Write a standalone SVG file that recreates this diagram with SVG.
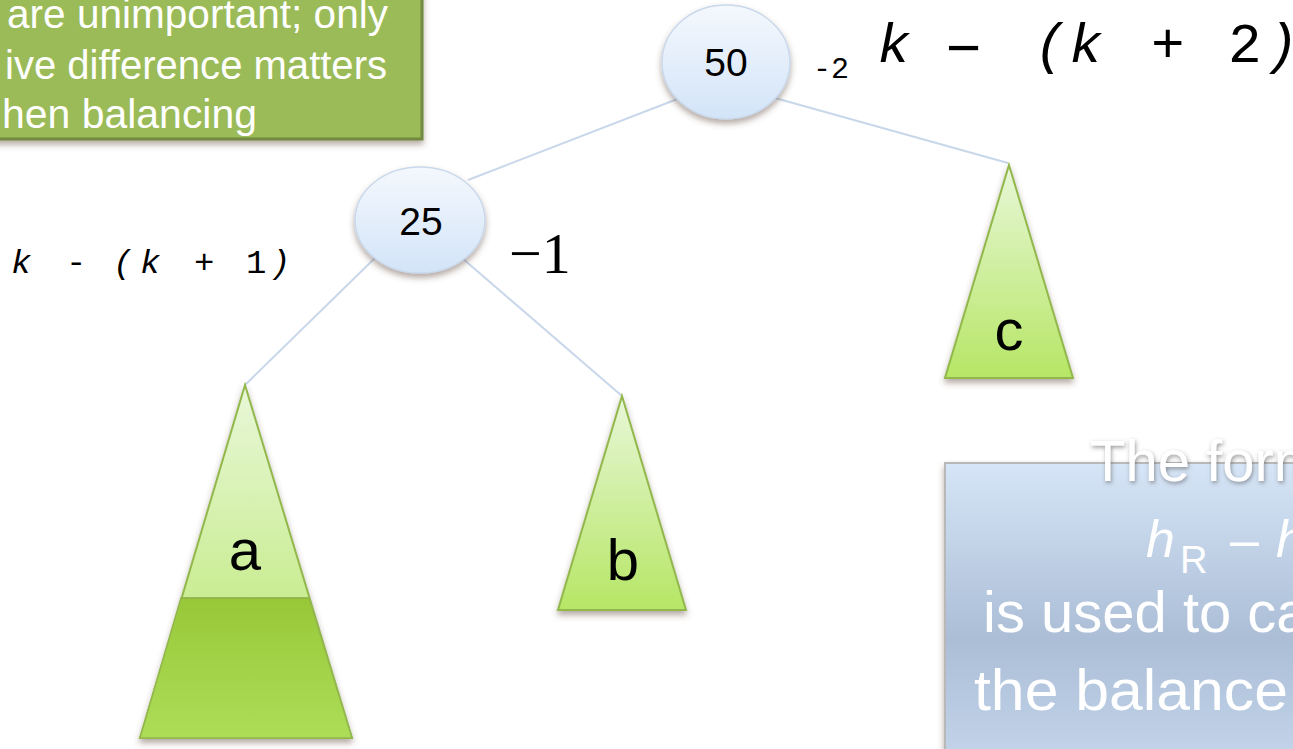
<svg xmlns="http://www.w3.org/2000/svg" width="1293" height="749" viewBox="0 0 1293 749">
<defs>
<linearGradient id="gTri" x1="0" y1="0" x2="0" y2="1">
<stop offset="0" stop-color="#E8F7D8"/>
<stop offset="1" stop-color="#B6E665"/>
</linearGradient>
<linearGradient id="gDark" x1="0" y1="0" x2="0" y2="1">
<stop offset="0" stop-color="#98C838"/>
<stop offset="1" stop-color="#ADDD58"/>
</linearGradient>
<linearGradient id="gNode" x1="0" y1="0" x2="0" y2="1">
<stop offset="0" stop-color="#F4F8FD"/>
<stop offset="1" stop-color="#D3E4F8"/>
</linearGradient>
<linearGradient id="gBlue" x1="0" y1="0" x2="0" y2="1">
<stop offset="0" stop-color="#D6E5F7"/>
<stop offset="0.55" stop-color="#ABBED6"/>
<stop offset="1" stop-color="#C8D9EE"/>
</linearGradient>
<filter id="sh" x="-20%" y="-20%" width="140%" height="140%">
<feDropShadow dx="0" dy="4" stdDeviation="3" flood-color="#5A4030" flood-opacity="0.45"/>
</filter>
<filter id="tsh" x="-10%" y="-30%" width="120%" height="160%">
<feDropShadow dx="1" dy="2" stdDeviation="2" flood-color="#555555" flood-opacity="0.6"/>
</filter>
<style>
.edge{stroke:#C8D7EA;stroke-width:2;fill:none}
.tri{fill:url(#gTri);stroke:#92B84C;stroke-width:2;filter:url(#sh)}
.node{fill:url(#gNode);stroke:#C9D8EA;stroke-width:1.5;filter:url(#sh)}
.lbl{font-family:"Liberation Sans",Arial,sans-serif;fill:#000;text-anchor:middle}
.wt{font-family:"Liberation Sans",Arial,sans-serif;fill:#FFFFFF}
.mono{font-family:"Liberation Mono","Courier New",monospace;fill:#000}
</style>
</defs>
<rect width="1293" height="749" fill="#FFFFFF"/>

<g id="note-green">
<rect x="-10" y="-10" width="432" height="149" fill="#9BBB59" stroke="#71893F" stroke-width="3" filter="url(#sh)"/>
<text class="wt" x="7" y="28" font-size="40" textLength="381" lengthAdjust="spacingAndGlyphs">are unimportant; only</text>
<text class="wt" x="5" y="79" font-size="40" textLength="382" lengthAdjust="spacingAndGlyphs">ive difference matters</text>
<text class="wt" x="2" y="128" font-size="40" textLength="255" lengthAdjust="spacingAndGlyphs">hen balancing</text>
</g>

<g id="connectors">
<line class="edge" x1="680" y1="98" x2="468" y2="180"/>
<line class="edge" x1="775" y1="98" x2="1008" y2="163"/>
<line class="edge" x1="375" y1="258" x2="245" y2="385"/>
<line class="edge" x1="462" y1="258" x2="622" y2="396"/>
</g>

<g id="node-50">
<ellipse class="node" cx="726" cy="62" rx="64" ry="57"/>
<text class="lbl" x="726" y="76" font-size="39">50</text>
</g>

<g id="node-25">
<ellipse class="node" cx="420" cy="220" rx="65" ry="53"/>
<text class="lbl" x="421" y="235" font-size="39">25</text>
</g>

<g id="subtree-a">
<polygon class="tri" points="245,385 352,738 140,738"/>
<polygon points="181,598 309,598 352,738 140,738" fill="url(#gDark)" stroke="#92B84C" stroke-width="1.5"/>
<line x1="181" y1="598" x2="309" y2="598" stroke="#8DB04A" stroke-width="1"/>
<text class="lbl" x="245" y="570" font-size="58">a</text>
</g>

<g id="subtree-b">
<polygon class="tri" points="622,396 686,610 558,610"/>
<text class="lbl" x="623" y="580" font-size="58">b</text>
</g>

<g id="subtree-c">
<polygon class="tri" points="1009,165 1073,378 945,378"/>
<text class="lbl" x="1009" y="350" font-size="58">c</text>
</g>

<g id="label-root">
<text class="mono" font-size="30" y="78"><tspan x="813">-</tspan><tspan x="831">2</tspan></text>
<text class="mono" font-size="56" y="62"><tspan x="877" font-style="italic">k</tspan><tspan x="946" y="68" font-family="Liberation Sans,Arial,sans-serif" font-size="60">−</tspan><tspan x="1034" y="62" font-style="italic">(</tspan><tspan x="1069" font-style="italic">k</tspan><tspan x="1151">+</tspan><tspan x="1228">2</tspan><tspan x="1265" font-style="italic">)</tspan></text>
</g>

<g id="label-25">
<text class="mono" font-size="34" y="273"><tspan x="11" font-style="italic">k</tspan><tspan x="66">-</tspan><tspan x="113" font-style="italic">(</tspan><tspan x="140" font-style="italic">k</tspan><tspan x="194">+</tspan><tspan x="246">1</tspan><tspan x="270" font-style="italic">)</tspan></text>
<text x="509" y="273" font-family="Liberation Serif,Times New Roman,serif" font-size="58" fill="#000">−1</text>
</g>

<g id="note-blue">
<rect x="945" y="463" width="370" height="320" fill="url(#gBlue)" stroke="#B8B8B8" stroke-width="2" filter="url(#sh)"/>
<text class="wt" x="1090" y="481" font-size="58" filter="url(#tsh)">The form</text>
<text class="wt" x="1146" y="557" font-size="52" font-style="italic">h</text>
<text class="wt" x="1180" y="573" font-size="38">R</text>
<text class="wt" x="1230" y="557" font-size="52">–</text>
<text class="wt" x="1276" y="557" font-size="52" font-style="italic">h</text>
<text class="wt" x="983" y="632" font-size="58">is used to ca</text>
<text class="wt" x="974" y="710" font-size="58" textLength="314" lengthAdjust="spacingAndGlyphs">the balance</text>
</g>
</svg>
